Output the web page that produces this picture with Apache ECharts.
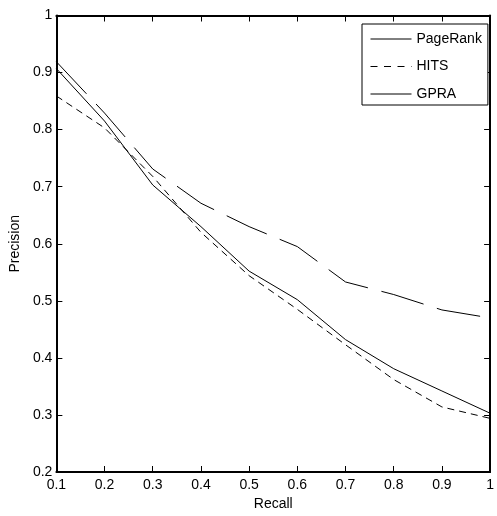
<!DOCTYPE html>
<html>
<head>
<meta charset="utf-8">
<script src="https://cdn.jsdelivr.net/npm/echarts@6/dist/echarts.min.js"></script>
<style>
html,body{margin:0;padding:0;background:#fff;}
#chart{width:497px;height:516px;}
</style>
</head>
<body>
<div id="chart"></div>
<script>
const recall = [0.1, 0.2, 0.3, 0.4, 0.5, 0.6, 0.7, 0.8, 0.9, 1.0];
const pageRank = [0.907, 0.815, 0.703, 0.630, 0.552, 0.502, 0.432, 0.381, 0.342, 0.303];
const hits = [0.859, 0.803, 0.718, 0.620, 0.544, 0.485, 0.423, 0.362, 0.314, 0.294];
const gpra = [0.919, 0.829, 0.731, 0.671, 0.630, 0.595, 0.533, 0.511, 0.484, 0.470];
const seriesNames = ['PageRank', 'HITS', 'GPRA'];
const xTicks = [0.1, 0.2, 0.3, 0.4, 0.5, 0.6, 0.7, 0.8, 0.9, 1];
const yTicks = [0.2, 0.3, 0.4, 0.5, 0.6, 0.7, 0.8, 0.9, 1];

const FONT = "'Liberation Sans', Arial, sans-serif";
const pair = (xs, ys) => xs.map((x, i) => [x, ys[i]]);
const fmt = v => String(Math.round(v * 10) / 10);

const axisLine = {show: true, onZero: false, lineStyle: {color: '#000', width: 2}};
const tick = {show: true, inside: true, length: 6, lineStyle: {color: '#000', width: 1}};

const chart = echarts.init(document.getElementById('chart'), null, {renderer: 'canvas'});
chart.setOption({
  animation: false,
  backgroundColor: '#fff',
  grid: {left: 50, top: 15.5, right: 1, bottom: 44, containLabel: false},
  legend: {
    orient: 'vertical',
    left: 362, top: 24,
    itemWidth: 41, itemHeight: 14, itemGap: 13.5,
    padding: [8, 6, 4, 8],
    borderColor: '#000', borderWidth: 1, borderRadius: 0,
    backgroundColor: '#fff',
    itemStyle: {opacity: 0},
    lineStyle: {width: 1, color: '#000'},
    textStyle: {color: '#000', fontFamily: FONT, fontSize: 14},
    data: [
      {name: seriesNames[0], lineStyle: {width: 1, type: 'solid'}},
      {name: seriesNames[1], lineStyle: {width: 1, type: [7, 6.5]}},
      {name: seriesNames[2], lineStyle: {width: 1, type: 'solid'}}
    ]
  },
  xAxis: [{
    type: 'value', position: 'bottom',
    min: xTicks[0], max: xTicks[xTicks.length - 1], interval: 0.1,
    name: 'Recall', nameLocation: 'middle', nameGap: 25,
    nameTextStyle: {color: '#000', fontFamily: FONT, fontSize: 14},
    axisLine: axisLine, axisTick: tick,
    axisLabel: {color: '#000', fontFamily: FONT, fontSize: 14, margin: 6, formatter: fmt},
    splitLine: {show: false}
  }, {
    type: 'value', position: 'top',
    min: xTicks[0], max: xTicks[xTicks.length - 1], interval: 0.1,
    axisLine: axisLine, axisTick: tick, axisLabel: {show: false}, splitLine: {show: false}
  }],
  yAxis: [{
    type: 'value', position: 'left',
    min: yTicks[0], max: yTicks[yTicks.length - 1], interval: 0.1,
    name: 'Precision', nameLocation: 'middle', nameGap: 29,
    nameTextStyle: {color: '#000', fontFamily: FONT, fontSize: 14},
    axisLine: axisLine, axisTick: tick,
    axisLabel: {color: '#000', fontFamily: FONT, fontSize: 14, margin: 4, formatter: fmt},
    splitLine: {show: false}
  }, {
    type: 'value', position: 'right',
    min: yTicks[0], max: yTicks[yTicks.length - 1], interval: 0.1,
    axisLine: axisLine, axisTick: tick, axisLabel: {show: false}, splitLine: {show: false}
  }],
  series: [{
    name: seriesNames[0], type: 'line', data: pair(recall, pageRank),
    symbol: 'none', color: '#000',
    lineStyle: {color: '#000', width: 1, type: 'solid'}
  }, {
    name: seriesNames[1], type: 'line', data: pair(recall, hits),
    symbol: 'none', color: '#000',
    lineStyle: {color: '#000', width: 1, type: [7, 5]}
  }, {
    name: seriesNames[2], type: 'line', data: pair(recall, gpra),
    symbol: 'none', color: '#000',
    lineStyle: {color: '#000', width: 1, type: [44, 14]}
  }]
});
</script>
</body>
</html>
